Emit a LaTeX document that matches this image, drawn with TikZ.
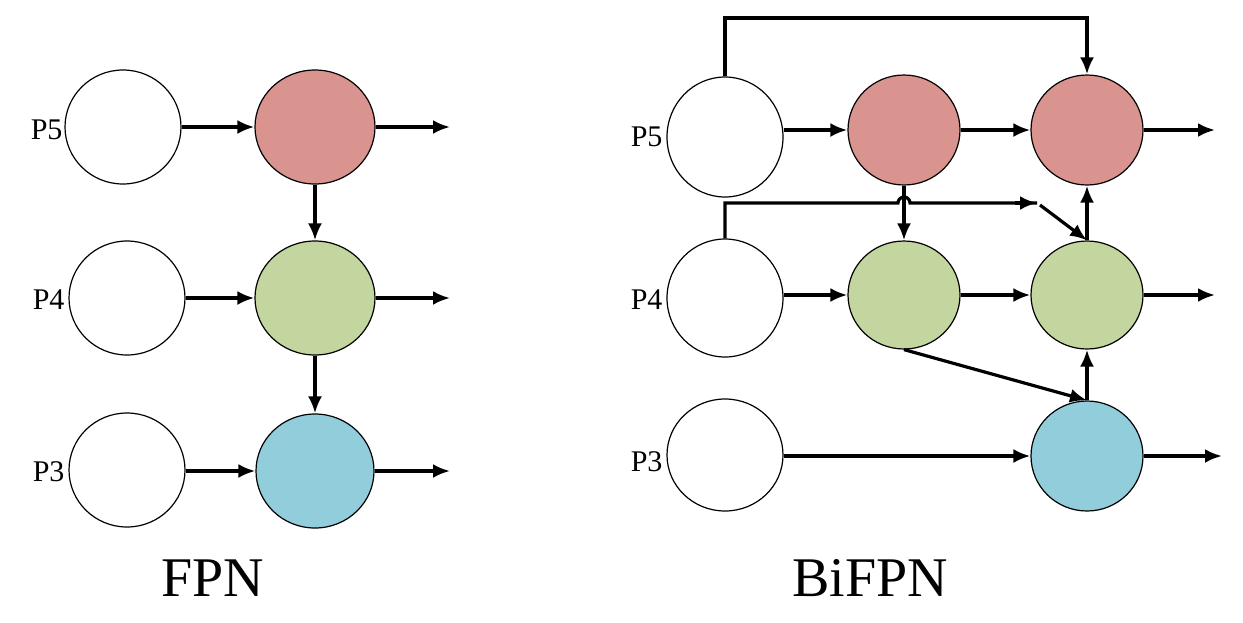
\documentclass[tikz,border=0pt]{standalone}
\usepackage{fontspec}
\setmainfont{Liberation Serif}
\usetikzlibrary{shapes.geometric,arrows.meta}
\begin{document}
\begin{tikzpicture}[x=1pt,y=-1pt,
  nd/.style={ellipse,draw,line width=1.2pt,minimum width=116pt,minimum height=114pt,inner sep=0pt},
  red/.style={nd,fill={rgb,255:red,217;green,148;blue,144}},
  grn/.style={nd,fill={rgb,255:red,196;green,214;blue,160}},
  blu/.style={nd,fill={rgb,255:red,146;green,205;blue,220}},
  ar/.style={-{Latex[length=17pt,width=14pt]},line width=3.2pt},
  ln/.style={line width=3.2pt},
  lab/.style={font=\fontsize{30pt}{30pt}\selectfont},
  ttl/.style={font=\fontsize{56pt}{56pt}\selectfont}]
\useasboundingbox (0,0) rectangle (1243,622);
% FPN
\node[nd] (a5) at (123,127) {};
\node[nd] (a4) at (127,298) {};
\node[nd] (a3) at (127,470) {};
\node[red,minimum width=120pt] (f5) at (315,127) {};
\node[grn,minimum width=120pt] (f4) at (315,298) {};
\node[blu,minimum width=118pt] (f3) at (315,471) {};
\node[lab,anchor=east] (l5) at (66,130) {P5};
\node[lab,anchor=east] (l4) at (68,300) {P4};
\node[lab,anchor=east] (l3) at (68,472) {P3};
\coordinate (o5) at (450,127);
\coordinate (o4) at (450,298);
\coordinate (o3) at (450,471);
\draw[ar] (a5) -- (f5);
\draw[ar] (a4) -- (f4);
\draw[ar] (a3.east |- f3) -- (f3);
\draw[ar] (f5) -- (o5);
\draw[ar] (f4) -- (o4);
\draw[ar] (f3) -- (o3);
\draw[ar] (f5) -- (f4);
\draw[ar] (f4) -- (f3);
\node[ttl] (t1) at (213,578) {FPN};
% BiFPN
\node[nd,minimum height=120pt] (b5) at (725,137) {};
\node[nd,minimum height=118pt] (b4) at (725,298) {};
\node[nd,minimum height=112pt] (b3) at (725,455) {};
\node[red,minimum height=110pt,minimum width=112pt] (m5) at (904,130) {};
\node[grn,minimum height=108pt,minimum width=112pt] (m4) at (904,295) {};
\node[red,minimum height=110pt,minimum width=112pt] (r5) at (1087,130) {};
\node[grn,minimum height=108pt,minimum width=112pt] (r4) at (1087,295) {};
\node[blu,minimum height=110pt,minimum width=112pt] (r3) at (1087,456) {};
\node[lab,anchor=east] (k5) at (666,137) {P5};
\node[lab,anchor=east] (k4) at (666,300) {P4};
\node[lab,anchor=east] (k3) at (666,462) {P3};
\draw[ar] (b5.east |- m5) -- (m5);
\draw[ar] (m5) -- (r5);
\draw[ar] (b4.east |- m4) -- (m4);
\draw[ar] (m4) -- (r4);
\draw[ar] (b3.east |- r3) -- (r3);
\draw[ar] (m5) -- (m4);
\draw[ar] (r3) -- (r4);
\draw[ar] (r4) -- (r5);
\coordinate (q5) at (1215,130);
\coordinate (q4) at (1215,295);
\coordinate (q3) at (1222,456);
\draw[ar] (r5) -- (q5);
\draw[ar] (r4) -- (q4);
\draw[ar] (r3) -- (q3);
\draw[ar] (b5.north) -- (725,18) -- (1087,18) -- (r5.north);
\coordinate (s1) at (1037,203);
\coordinate (s2) at (1040,205);
\draw[ln] (b4.north) -- (725,203) -- (898,203) arc[start angle=180,end angle=0,radius=6pt] -- (s1);
\draw[ar] (1015,203) -- (s1);
\draw[ar] (s2) -- (r4.north);
\draw[ar] (m4.south) -- (r3.north);
\node[ttl] (t2) at (870,578) {BiFPN};
\end{tikzpicture}
\end{document}
